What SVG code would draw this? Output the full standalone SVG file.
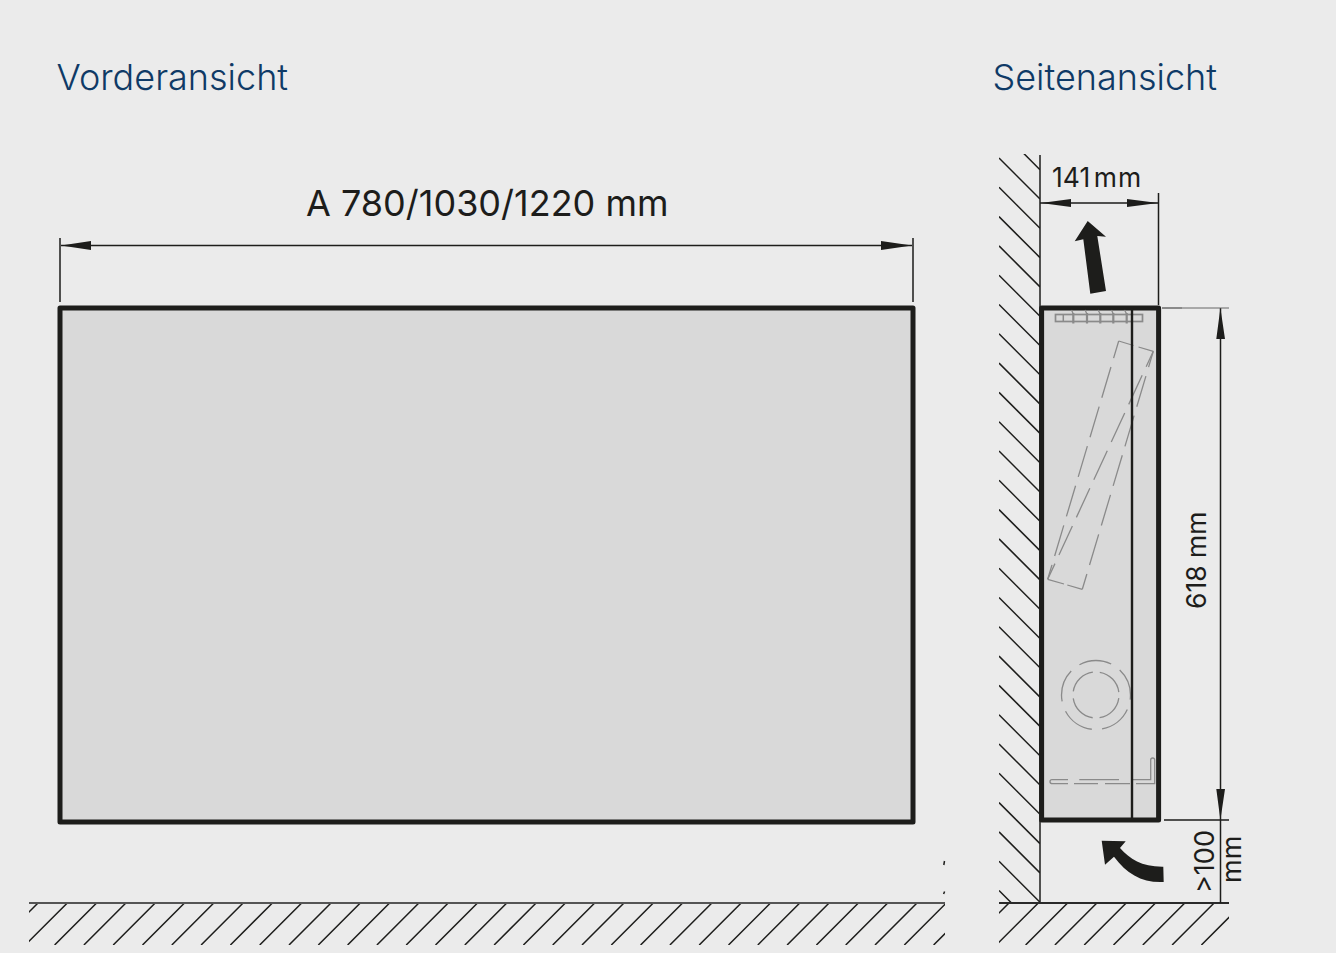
<svg xmlns="http://www.w3.org/2000/svg" width="1336" height="953" viewBox="0 0 1336 953">
<defs>
<style>
.t{font-family:"Inter","Liberation Sans",sans-serif;fill:#1d1d1b;font-weight:400}
.h{font-family:"Inter","Liberation Sans",sans-serif;fill:#0f3a66;font-weight:300;font-size:36px}
.k{stroke:#1d1d1b;fill:none;stroke-width:1.5}
.b{stroke:#1d1d1b;stroke-width:5;fill:#d9d9d9;stroke-linejoin:round}
.g{stroke:#8a8a8a;fill:none;stroke-width:1.3}
.a{fill:#1d1d1b}
</style>
<clipPath id="cf"><rect x="29" y="903" width="916" height="42"/></clipPath>
<clipPath id="cs"><rect x="999" y="903" width="230" height="42"/></clipPath>
<clipPath id="cw"><rect x="999" y="154" width="41" height="749"/></clipPath>
</defs>
<rect width="1336" height="953" fill="#ebebeb"/>
<g id="titles">
<text class="h" x="56.5" y="90">Vorderansicht</text>
<text class="h" x="992.5" y="90">Seitenansicht</text>
</g>
<g id="floor-front">
<path class="k" clip-path="url(#cf)" d="M38 903l-42 42M67.3 903l-42 42M96.6 903l-42 42M125.9 903l-42 42M155.2 903l-42 42M184.5 903l-42 42M213.8 903l-42 42M243.1 903l-42 42M272.4 903l-42 42M301.7 903l-42 42M331 903l-42 42M360.3 903l-42 42M389.6 903l-42 42M418.9 903l-42 42M448.2 903l-42 42M477.5 903l-42 42M506.8 903l-42 42M536.1 903l-42 42M565.4 903l-42 42M594.7 903l-42 42M624 903l-42 42M653.3 903l-42 42M682.6 903l-42 42M711.9 903l-42 42M741.2 903l-42 42M770.5 903l-42 42M799.8 903l-42 42M829.1 903l-42 42M858.4 903l-42 42M887.7 903l-42 42M917 903l-42 42M946.3 903l-42 42M975.6 903l-42 42"/>
<path d="M29 903H945" stroke="#555" stroke-width="2" fill="none"/>
<path class="k" d="M944.5 861l-.7 4M944.6 891.5l-1 2.5"/>
</g>
<g id="front-view">
<rect class="b" x="60" y="308" width="853" height="514"/>
</g>
<g id="front-dimension">
<path class="k" d="M60 238V302M913 238V302M61 245.5H912"/>
<path class="a" d="M61 245.5L91 241V250ZM912 245.5L881 241V250Z"/>
<text class="t" x="306" y="216" font-size="36" id="dim-a">A 780/1030/1220 mm</text>
</g>
<g id="wall">
<path class="k" clip-path="url(#cw)" d="M999 128.7l41 41M999 158l41 41M999 187.3l41 41M999 216.6l41 41M999 245.9l41 41M999 275.2l41 41M999 304.5l41 41M999 333.8l41 41M999 363.1l41 41M999 392.4l41 41M999 421.7l41 41M999 451l41 41M999 480.3l41 41M999 509.6l41 41M999 538.9l41 41M999 568.2l41 41M999 597.5l41 41M999 626.8l41 41M999 656.1l41 41M999 685.4l41 41M999 714.7l41 41M999 744l41 41M999 773.3l41 41M999 802.6l41 41M999 831.9l41 41M999 861.2l41 41M999 890.5l41 41"/>
<path class="k" d="M1040 155V903"/>
</g>
<g id="floor-side">
<path class="k" clip-path="url(#cs)" d="M1009 903l-42 42M1038.3 903l-42 42M1067.6 903l-42 42M1096.9 903l-42 42M1126.2 903l-42 42M1155.5 903l-42 42M1184.8 903l-42 42M1214.1 903l-42 42M1243.4 903l-42 42"/>
<path d="M999 903H1229" stroke="#2a2a2a" stroke-width="2" fill="none"/>
</g>
<g id="side-view">
<rect class="b" x="1041.6" y="308" width="117" height="512"/>
<g id="internals">
<path class="g" d="M1082.3 589.3L1153.3 351.3" stroke-dasharray="32 9.3" stroke-dashoffset="16"/>
<path class="g" d="M1047.7 579.3L1118.7 341" stroke-dasharray="32 9.3" stroke-dashoffset="17"/>
<path class="g" d="M1153.3 351.3L1047.7 579.3" stroke-dasharray="32 9.5" stroke-dashoffset="15"/>
<path class="g" d="M1118.7 341L1133.5 345.5M1138.5 347L1153.3 351.3M1047.7 579.3L1064 584M1067.3 585L1082.3 589.3"/>
<rect x="1055.5" y="314.5" width="87" height="7" fill="none" stroke="#8a8a8a" stroke-width="1.7"/>
<path d="M1063.3 314.5V321.5" stroke="#8a8a8a" stroke-width="1.5" fill="none"/>
<path d="M1073.3 313V323.5M1087 313V323.5M1100.3 313V323.5M1113.3 313V323.5M1126.7 313V323.5" stroke="#8a8a8a" stroke-width="2.2" fill="none"/>
<path class="g" d="M1071.5 310L1073.3 314M1085 310L1087 314M1098 310L1100.3 314M1111.5 310L1113.3 314M1124.5 310L1126.7 314"/>
<circle class="g" cx="1096" cy="695" r="34.5" stroke-dasharray="33 10.35" stroke-dashoffset="-15"/>
<circle class="g" cx="1096" cy="695" r="23" stroke-dasharray="29 7.13" stroke-dashoffset="-3.2"/>
<path class="g" d="M1068 779.7H1052Q1050 779.7 1050 781.7Q1050 783.7 1052.7 783.7H1068M1074 783.7H1098M1105 783.7H1130M1136 783.7H1154.7V760Q1154.7 758 1152.7 758Q1150.7 758 1150.7 760V779.7H1133M1119 779.7H1079.3"/>
</g>
<path d="M1132 308V820" stroke="#1d1d1b" stroke-width="2.4" fill="none"/>
</g>
<g id="side-dimensions">
<path class="k" d="M1158.5 193V305M1040 203H1158M1220.5 308V903M1164 820H1229"/>
<path d="M1162 308H1182" stroke="#555" stroke-width="1.3" fill="none"/>
<path d="M1182 308H1229" stroke="#666" stroke-width="1" fill="none"/>
<path class="a" d="M1041 203L1071 199V207ZM1158 203L1127 199V207ZM1220.4 308L1225 339H1216.3ZM1220.4 820L1225 789H1216.3Z"/>
<text class="t" x="1052" y="187" font-size="26.5" word-spacing="-4">141 <tspan letter-spacing="1.2">mm</tspan></text>
<text class="t" font-size="26.5" transform="translate(1206 609) rotate(-90)">618 mm</text>
<text class="t" font-size="27" transform="translate(1214 893) rotate(-90)">&gt;100</text>
<text class="t" font-size="27" transform="translate(1241 883) rotate(-90)">mm</text>
</g>
<g id="air-flow">
<path class="a" d="M1087.7 221L1106 236.7L1097.3 236L1106 291L1090.3 293.7L1083.3 239.3L1074.7 241.3Z"/>
<path class="a" d="M1101.7 840.7L1125.7 841.3L1120 848C1130 859 1142 867 1163.3 866.7L1163.7 882C1142 883 1127 874 1114 856.7L1105 864.7Z"/>
</g>
</svg>
